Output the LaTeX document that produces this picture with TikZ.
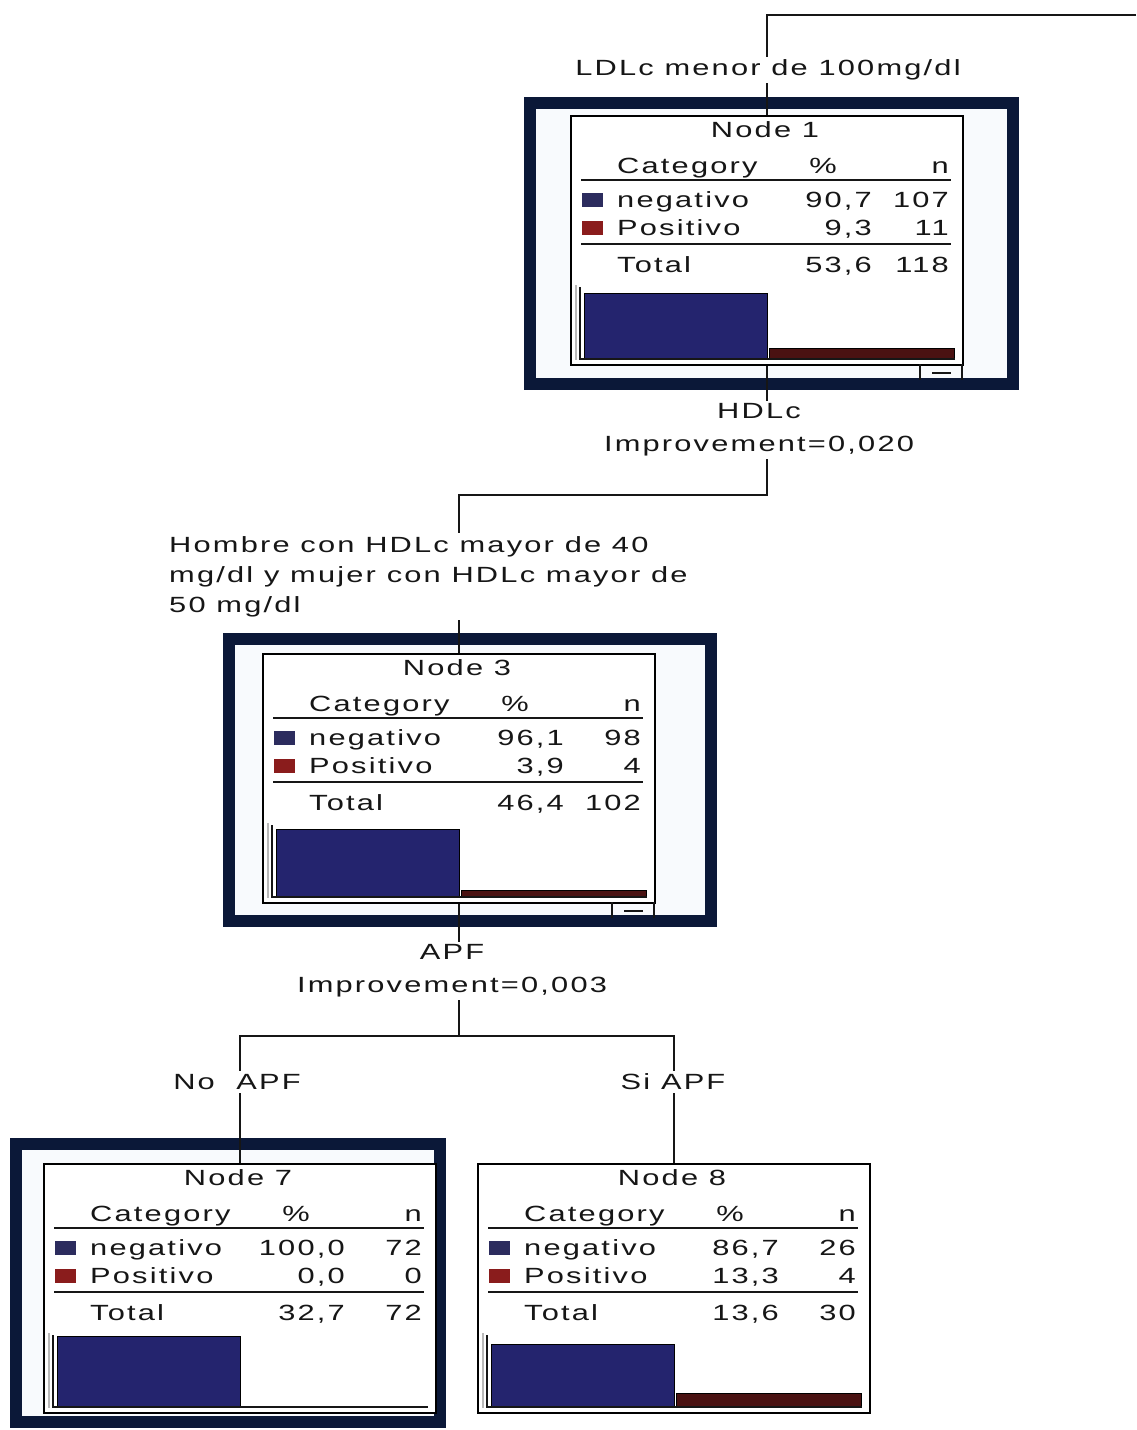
\documentclass[tikz,border=0pt]{standalone}
\usepackage{fontspec}
\setmainfont{Liberation Sans}[FakeStretch=1.4,LetterSpace=10]
\pgfdeclarelayer{frames}
\pgfdeclarelayer{wires}
\pgfsetlayers{frames,wires,main}

\definecolor{framenavy}{HTML}{0B1838}
\definecolor{barblue}{HTML}{24246E}
\definecolor{barred}{HTML}{4A1212}
\definecolor{keyblue}{HTML}{2C2C5E}
\definecolor{keyred}{HTML}{8A1C1C}
\definecolor{ink}{HTML}{161616}
\definecolor{gapfill}{HTML}{F8FAFD}

% table of one tree node: #1 prefix, #2 title, #3/#4 negativo, #5/#6 Positivo, #7/#8 Total
\newcommand\nodetable[8]{%
  \node[txt, anchor=base] (#1-title) at (195,22) {#2};
  \node[txt, anchor=base west] (#1-cat) at (47,58) {Category};
  \node[txt, anchor=base] (#1-pcthead) at (253,58) {\%};
  \node[txt, anchor=base east] (#1-nhead) at (379,58) {n};
  \draw[rule] (11,65) -- (381,65);
  \fill[keyblue] (12,78) rectangle (33,92);
  \node[txt, anchor=base west] (#1-neg) at (47,92) {negativo};
  \node[txt, anchor=base east] (#1-negp) at (302,92) {#3};
  \node[txt, anchor=base east] (#1-negn) at (379,92) {#4};
  \fill[keyred] (12,106) rectangle (33,120);
  \node[txt, anchor=base west] (#1-pos) at (47,120) {Positivo};
  \node[txt, anchor=base east] (#1-posp) at (302,120) {#5};
  \node[txt, anchor=base east] (#1-posn) at (379,120) {#6};
  \draw[rule] (11,129) -- (381,129);
  \node[txt, anchor=base west] (#1-tot) at (47,157) {Total};
  \node[txt, anchor=base east] (#1-totp) at (302,157) {#7};
  \node[txt, anchor=base east] (#1-totn) at (379,157) {#8};
}

% bar chart at the foot of a tree node: #1 height of negativo bar, #2 height of Positivo bar
\newcommand\histo[2]{%
  \draw[axisgray] (6,170) -- (6,245);
  \path[bluebar] (14,243) rectangle (197,{243-#1});
  \path[redbar] (199,243) rectangle (384,{243-#2});
  \draw[rule] (10,172) -- (10,244) -- (385,244);
}

% small collapse toggle under the right corner of an expanded node
\newcommand\collapsemark{%
  \draw[thinrule] (350,249) -- (350,265);
  \draw[thinrule] (392,249) -- (392,265);
  \draw[thinrule] (362,258) -- (381,258);
}

\begin{document}
\begin{tikzpicture}[x=1pt,y=-1pt,
  txt/.style={inner sep=0pt, text=ink, font=\fontsize{22}{26}\selectfont},
  lbl/.style={inner sep=3pt, fill=white, text=ink, font=\fontsize{22}{33}\selectfont},
  tbox/.style={draw=black, fill=white, line width=1.8pt, minimum width=392pt,
               minimum height=249pt, inner sep=0pt, anchor=north west},
  frame/.style={draw=framenavy, fill=gapfill, line width=12.5pt},
  wire/.style={draw=ink, line width=2pt},
  rule/.style={draw=ink, line width=1.8pt},
  thinrule/.style={draw=ink, line width=1.4pt},
  axisgray/.style={draw=gray!55, line width=1.6pt},
  bluebar/.style={fill=barblue, draw=black, line width=1pt},
  redbar/.style={fill=barred, draw=black, line width=1pt}]

\useasboundingbox (0,0) rectangle (1136,1430);
\begin{pgfonlayer}{frames}
  \fill[white] (0,0) rectangle (1136,1430);
  % thick selection frames round three of the nodes
  \path[frame] (530,103) rectangle (1013,384);
  \path[frame] (229,639) rectangle (711,921);
  \path[frame] (16,1144) rectangle (440,1422);
\end{pgfonlayer}

% Node 1
\node[tbox] (n1) at (570,115) {};
\begin{scope}[shift={(570,115)}]
  \nodetable{n1}{Node 1}{90,7}{107}{9,3}{11}{53,6}{118}
  \histo{65}{10}
  \collapsemark
\end{scope}

% Node 3
\node[tbox] (n3) at (262,653) {};
\begin{scope}[shift={(262,653)}]
  \nodetable{n3}{Node 3}{96,1}{98}{3,9}{4}{46,4}{102}
  \histo{67}{6}
  \collapsemark
\end{scope}

% Node 7
\node[tbox] (n7) at (43,1163) {};
\begin{scope}[shift={(43,1163)}]
  \nodetable{n7}{Node 7}{100,0}{72}{0,0}{0}{32,7}{72}
  \histo{70}{0}
\end{scope}

% Node 8
\node[tbox] (n8) at (477,1163) {};
\begin{scope}[shift={(477,1163)}]
  \nodetable{n8}{Node 8}{86,7}{26}{13,3}{4}{13,6}{30}
  \histo{62}{13}
\end{scope}

% connectors of the tree
\coordinate (feed) at (1136,15);
\begin{pgfonlayer}{wires}
  \draw[wire] (feed) -| (n1.north);
  \draw[wire] (n1.south) -- ++(0,129) -| (n3.north);
  \draw[wire] (n3.south) -- ++(0,132) coordinate (split);
  \draw[wire] (split) -| (n7.north);
  \draw[wire] (split) -| (n8.north);
\end{pgfonlayer}

% split and branch labels
\node[lbl] (ldl) at (768,70) {LDLc menor de 100mg/dl};
\node[lbl, align=center] (hdl) at (759,430) {HDLc\\Improvement=0,020};
\node[lbl, align=left, anchor=north west, font=\fontsize{22}{30}\selectfont]
  (hdlsplit) at (166,533) {Hombre con HDLc mayor de 40\\mg/dl y mujer con HDLc mayor de\\50 mg/dl};
\node[lbl, align=center] (apf) at (452,971) {APF\\Improvement=0,003};
\node[lbl] (noapf) at (237,1082) {No~~APF};
\node[lbl] (siapf) at (673,1082) {Si APF};
\end{tikzpicture}
\end{document}
